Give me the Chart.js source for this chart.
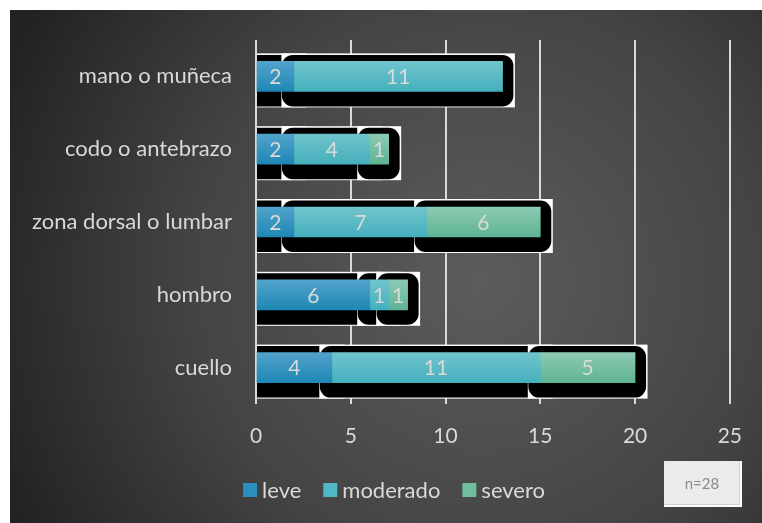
<!DOCTYPE html>
<html>
<head>
<meta charset="utf-8">
<script src="https://cdn.jsdelivr.net/npm/chart.js@4/dist/chart.umd.min.js"></script>
<style>
  html, body { margin: 0; padding: 0; background: #ffffff; }
  #wrap { position: relative; width: 762px; height: 523px; }
  #chart { position: absolute; left: 0; top: 0; }
  #note {
    position: absolute; left: 664px; top: 461px; width: 78px; height: 46px;
    box-sizing: border-box; background: #ebebeb;
    border-right: 2px solid #ffffff; border-bottom: 2px solid #ffffff;
    box-shadow: inset -1px -1px 0 #d2d2d2;
    display: flex; align-items: center; justify-content: center;
    font-family: Lato, sans-serif; font-size: 15px; color: #8a8a8a;
  }
  #note span { filter: blur(0.45px); }
</style>
</head>
<body>
<div id="wrap">
  <canvas id="chart" width="762" height="523"></canvas>
  <div id="note"><span>n=28</span></div>
</div>
<script>
// Body regions and number of reported cases per severity level
const categories = ['mano o muñeca', 'codo o antebrazo', 'zona dorsal o lumbar', 'hombro', 'cuello'];
const leve = [2, 2, 2, 6, 4];
const moderado = [11, 4, 7, 1, 11];
const severo = [0, 1, 6, 1, 5];
const seriesNames = ['leve', 'moderado', 'severo'];
const xTicks = [0, 5, 10, 15, 20, 25];

const FONT = 'Lato, "Open Sans", sans-serif';
const TEXT = '#d9d9d9';

// top / bottom colours of each series' vertical gradient, plus the flat legend swatch
const palette = [
  { top: '#52a3cb', bottom: '#1e87b5', swatch: '#2a8fc0' },
  { top: '#70c5cc', bottom: '#45afbd', swatch: '#4fb8c4' },
  { top: '#8ccbb3', bottom: '#5fb393', swatch: '#6fbf9f' }
];

function barFill(idx) {
  return (ctx) => {
    const chart = ctx.chart;
    const yScale = chart.scales.y;
    if (!chart.chartArea || !yScale) return palette[idx].swatch;
    const yc = yScale.getPixelForValue(ctx.dataIndex);
    const g = chart.ctx.createLinearGradient(0, yc - 15, 0, yc + 15);
    g.addColorStop(0, palette[idx].top);
    g.addColorStop(1, palette[idx].bottom);
    return g;
  };
}

// dark panel behind the plot
const panelBackground = {
  id: 'panelBackground',
  beforeDraw(chart) {
    const c = chart.ctx;
    c.save();
    const g = c.createRadialGradient(480, 280, 0, 480, 280, 520);
    g.addColorStop(0, '#5c5c5c');
    g.addColorStop(0.55, '#444444');
    g.addColorStop(1, '#222222');
    c.fillStyle = g;
    c.fillRect(10, 10, chart.width - 10, chart.height - 10);
    c.restore();
  }
};

// offset black rounded shadow (on a white box) under each bar segment
const segmentShadow = {
  id: 'segmentShadow',
  beforeDatasetsDraw(chart) {
    const c = chart.ctx;
    const a = chart.chartArea;
    c.save();
    c.beginPath();
    c.rect(a.left + 1, a.top, a.right - a.left, a.bottom - a.top);
    c.clip();
    chart.data.datasets.forEach((ds, i) => {
      const meta = chart.getDatasetMeta(i);
      meta.data.forEach((bar, j) => {
        if (!ds.data[j]) return;
        const p = bar.getProps(['x', 'y', 'base', 'height'], true);
        const x0 = Math.min(p.base, p.x), x1 = Math.max(p.base, p.x);
        const y0 = p.y - p.height / 2, y1 = p.y + p.height / 2;
        c.fillStyle = '#ffffff';
        c.fillRect(x0 - 12.5, y0 - 8, (x1 - x0) + 25, (y1 - y0) + 24);
        c.fillStyle = '#000000';
        c.beginPath();
        c.roundRect(x0 - 12, y0 - 6.5, (x1 - x0) + 23, (y1 - y0) + 21.5, 11);
        c.fill();
      });
    });
    c.restore();
  }
};

// value labels centred inside each segment
const segmentLabels = {
  id: 'segmentLabels',
  afterDatasetsDraw(chart) {
    const c = chart.ctx;
    c.save();
    c.font = '21px ' + FONT;
    c.fillStyle = TEXT;
    c.textAlign = 'center';
    c.textBaseline = 'middle';
    chart.data.datasets.forEach((ds, i) => {
      chart.getDatasetMeta(i).data.forEach((bar, j) => {
        const v = ds.data[j];
        if (!v) return;
        const p = bar.getProps(['x', 'y', 'base'], true);
        c.fillText(String(v), (p.x + p.base) / 2, p.y + 1);
      });
    });
    c.restore();
  }
};

// legend row under the axis
const bottomLegend = {
  id: 'bottomLegend',
  afterDraw(chart) {
    const c = chart.ctx;
    c.save();
    c.font = '22px ' + FONT;
    c.textBaseline = 'middle';
    c.textAlign = 'left';
    const box = 14, gap = 5, spacing = 22, cy = 490;
    const widths = chart.data.datasets.map(d => c.measureText(d.label).width);
    let total = 0;
    widths.forEach((w, i) => { total += box + gap + w + (i < widths.length - 1 ? spacing : 0); });
    let x = 394 - total / 2;
    chart.data.datasets.forEach((d, i) => {
      c.fillStyle = palette[i].swatch;
      c.fillRect(x, cy - box / 2, box, box);
      x += box + gap;
      c.fillStyle = TEXT;
      c.fillText(d.label, x, cy + 1);
      x += widths[i] + spacing;
    });
    c.restore();
  }
};

const seriesValues = [leve, moderado, severo];

new Chart(document.getElementById('chart'), {
  type: 'bar',
  data: {
    labels: categories,
    datasets: seriesNames.map((name, i) => ({
      label: name,
      data: seriesValues[i],
      backgroundColor: barFill(i),
      borderWidth: 0,
      barThickness: 30
    }))
  },
  options: {
    indexAxis: 'y',
    responsive: false,
    animation: false,
    events: [],
    layout: { padding: { left: 10, right: 31, top: 40, bottom: 69 } },
    plugins: {
      legend: { display: false },
      tooltip: { enabled: false }
    },
    scales: {
      x: {
        stacked: true,
        min: xTicks[0],
        max: xTicks[xTicks.length - 1],
        afterBuildTicks(axis) { axis.ticks = xTicks.map(v => ({ value: v })); },
        afterFit(axis) { axis.height = 50; },
        grid: { color: '#d9d9d9', lineWidth: 2, drawTicks: false },
        border: { display: false },
        ticks: { color: TEXT, font: { family: FONT, size: 21 }, padding: 20 }
      },
      y: {
        stacked: true,
        afterFit(axis) { axis.width = 246; },
        grid: { display: false, drawTicks: false },
        border: { display: false },
        ticks: { color: TEXT, font: { family: FONT, size: 22 }, padding: 24 }
      }
    }
  },
  plugins: [panelBackground, segmentShadow, segmentLabels, bottomLegend]
});
</script>
</body>
</html>
